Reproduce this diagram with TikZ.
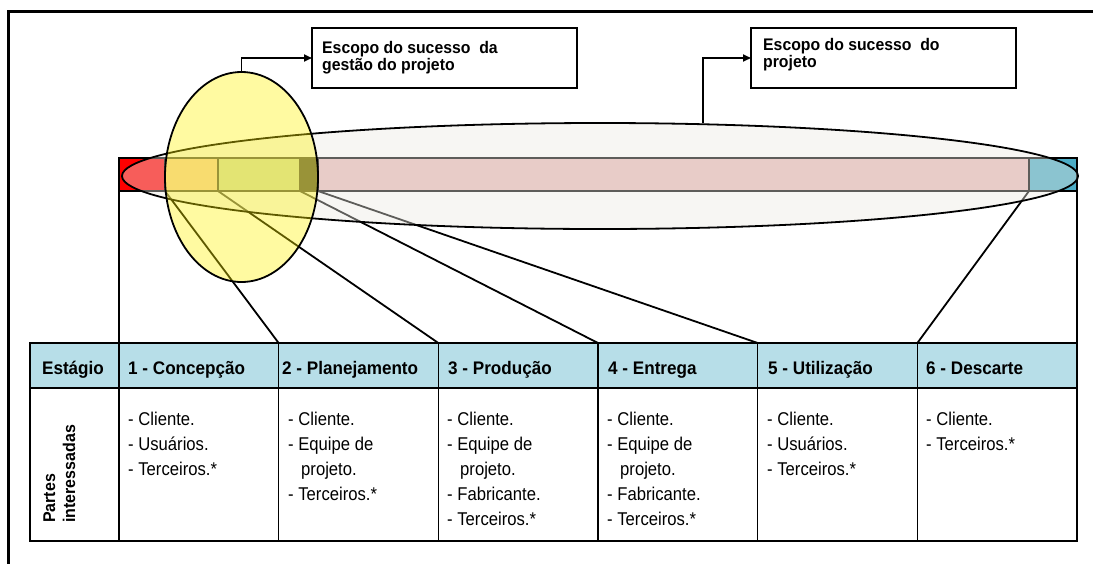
\documentclass[tikz,border=0pt]{standalone}
\usepackage{fontspec}
\setmainfont{Liberation Sans}
\newfontfamily\condfont[FakeStretch=0.9]{Liberation Sans}
\newfontfamily\semicondfont[FakeStretch=0.94]{Liberation Sans}
\usetikzlibrary{shapes.geometric,arrows.meta}
\definecolor{segred}{RGB}{255,0,0}
\definecolor{segpeach}{RGB}{250,192,144}
\definecolor{seggreen}{RGB}{195,214,155}
\definecolor{segpink}{RGB}{230,185,184}
\definecolor{segblue}{RGB}{75,172,198}
\definecolor{hdrblue}{RGB}{183,222,232}
\definecolor{ellfill}{RGB}{235,233,225}
\begin{document}
\begin{tikzpicture}[x=1pt,y=-1pt,
  seg/.style={draw=black, line width=1.2pt, inner sep=0pt, outer sep=0pt, minimum height=33pt, anchor=north west},
  hcell/.style={draw=black, line width=1.6pt, fill=hdrblue, inner sep=0pt, outer sep=0pt, minimum height=45pt, anchor=north west},
  bcell/.style={draw=black, line width=1.6pt, inner sep=0pt, outer sep=0pt, minimum height=153pt, anchor=north west},
  link/.style={draw=black, line width=1.8pt},
  arrowline/.style={draw=black, line width=1.8pt, -{Triangle[length=8pt,width=7pt]}},
  labelbox/.style={draw=black, line width=1.6pt, fill=white, inner sep=0pt, outer sep=0pt, minimum width=265pt, minimum height=60pt, anchor=north west},
  boxtext/.style={font=\semicondfont\fontsize{16.8}{18}\selectfont\bfseries, anchor=base west, inner sep=0pt},
  htext/.style={font=\semicondfont\fontsize{18.2}{20}\selectfont\bfseries, anchor=base west, inner sep=0pt},
  btext/.style={font=\condfont\fontsize{18.5}{20}\selectfont, anchor=base west, inner sep=0pt},
  rtext/.style={font=\semicondfont\fontsize{17}{18}\selectfont\bfseries, anchor=base west, inner sep=0pt, rotate=90}
]
\useasboundingbox (0,0) rectangle (1093,563);
% frame
\draw[line width=3pt] (8.5,570) -- (8.5,11.5) -- (1100,11.5);

% bar segments
\node[seg, fill=segred, minimum width=46pt] (s1) at (119,158) {};
\node[seg, fill=segpeach, minimum width=53pt] (s2) at (165,158) {};
\node[seg, fill=seggreen, minimum width=82pt] (s3) at (218,158) {};
\node[seg, fill=black, minimum width=18pt] (s4) at (300,158) {};
\node[seg, fill=segpink, minimum width=711pt] (s5) at (318,158) {};
\node[seg, fill=segblue, minimum width=48pt] (s6) at (1029,158) {};

% table header
\node[hcell, minimum width=89pt] (h0) at (30,343) {};
\foreach \i in {1,...,6} {
  \node[hcell, minimum width=159.67pt] (h\i) at ({119+159.67*(\i-1)},343) {};
  \node[bcell, minimum width=159.67pt] (b\i) at ({119+159.67*(\i-1)},388) {};
}
\node[bcell, minimum width=89pt] (b0) at (30,388) {};

% connectors from bar to table
\draw[link] (s1.south west) -- (h1.north west);
\draw[link] (s2.south west) -- (h1.north east);
\draw[link] (s3.south west) -- (h2.north east);
\draw[link] (s4.south west) -- (h3.north east);
\draw[link] (s5.south west) -- (h4.north east);
\draw[link] (s6.south west) -- (h5.north east);
\draw[link] (s6.south east) -- (h6.north east);

% ellipses
\node[ellipse, draw=black, line width=1.8pt, fill=ellfill, fill opacity=0.4, minimum width=956pt, minimum height=106pt, inner sep=0pt] (big) at (600,176) {};
\node[ellipse, draw=black, line width=1.8pt, fill=yellow, fill opacity=0.37, minimum width=153pt, minimum height=210pt, inner sep=0pt] (yel) at (241.5,177) {};

% label boxes
\node[labelbox] (box1) at (312,28) {};
\node[labelbox] (box2) at (751,28) {};
\node[boxtext] (box1a) at (322,53) {Escopo do sucesso\ \ da};
\node[boxtext] (box1b) at (322,70) {gestão do projeto};
\node[boxtext] (box2a) at (763,50) {Escopo do sucesso\ \ do};
\node[boxtext] (box2b) at (763,67) {projeto};

\draw[arrowline] (yel.north) |- (box1.west);
\draw[arrowline] (big.27.4) |- (box2.west);

% header texts
\node[htext, anchor=base] (t0) at (73,374) {Estágio};
\node[htext] (t1) at (128,374) {1 - Concepção};
\node[htext] (t2) at (282,374) {2 - Planejamento};
\node[htext] (t3) at (448,374) {3 - Produção};
\node[htext] (t4) at (608,374) {4 - Entrega};
\node[htext] (t5) at (768,374) {5 - Utilização};
\node[htext] (t6) at (926,374) {6 - Descarte};

% rotated label
\node[rtext] (pa) at (55,523) {Partes};
\node[rtext] (pb) at (75,523) {interessadas};

% body texts
\foreach \t [count=\i] in {- Cliente., - Usuários., - Terceiros.*}
  \node[btext] (c1l\i) at (128,{400+25*\i}) {\t};
\foreach \t [count=\i] in {- Cliente., - Equipe de, \hspace*{13pt}projeto., - Terceiros.*}
  \node[btext] (c2l\i) at (288,{400+25*\i}) {\t};
\foreach \t [count=\i] in {- Cliente., - Equipe de, \hspace*{13pt}projeto., - Fabricante., - Terceiros.*}
  \node[btext] (c3l\i) at (447,{400+25*\i}) {\t};
\foreach \t [count=\i] in {- Cliente., - Equipe de, \hspace*{13pt}projeto., - Fabricante., - Terceiros.*}
  \node[btext] (c4l\i) at (607,{400+25*\i}) {\t};
\foreach \t [count=\i] in {- Cliente., - Usuários., - Terceiros.*}
  \node[btext] (c5l\i) at (767,{400+25*\i}) {\t};
\foreach \t [count=\i] in {- Cliente., - Terceiros.*}
  \node[btext] (c6l\i) at (926,{400+25*\i}) {\t};
\end{tikzpicture}
\end{document}
